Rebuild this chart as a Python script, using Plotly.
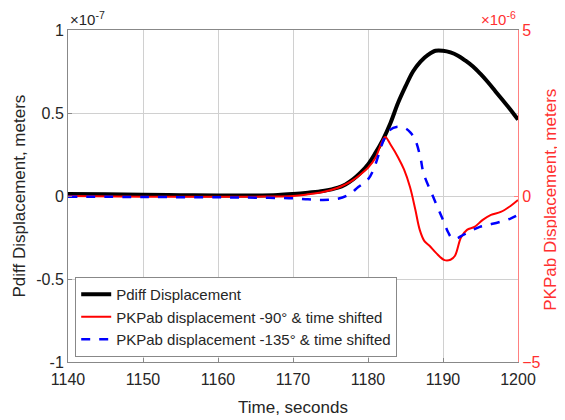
import plotly.graph_objects as go

# Pdiff displacement, units of 1e-7 m
t_pdiff = [1140, 1145, 1150, 1155, 1160, 1165, 1168, 1170, 1172, 1174, 1176, 1177, 1178,
           1179, 1180, 1181, 1182, 1183, 1184, 1185, 1186, 1187, 1188, 1189, 1190, 1191,
           1192, 1193, 1194, 1195, 1196, 1197, 1198, 1199, 1200]
pdiff = [0.012, 0.010, 0.007, 0.005, 0.003, 0.003, 0.006, 0.012, 0.02, 0.03, 0.05, 0.07, 0.10,
         0.14, 0.19, 0.26, 0.34, 0.44, 0.56, 0.66, 0.75, 0.81, 0.85, 0.875, 0.875, 0.865,
         0.845, 0.815, 0.78, 0.735, 0.685, 0.63, 0.575, 0.52, 0.46]

# PKPab -90 deg, time shifted, units of 1e-6 m
t_pk90 = [1140, 1150, 1160, 1165, 1170, 1172, 1174, 1176, 1177, 1178, 1179, 1180, 1181,
          1181.8, 1182.3, 1183, 1184, 1184.8, 1185.6, 1186.3, 1186.9, 1187.5, 1188.2, 1189.1,
          1190.2, 1191, 1191.6, 1192.4, 1193.2, 1194.2, 1195.3, 1196.4, 1197.7, 1199, 1200]
pk90 = [0.0, -0.02, -0.02, -0.02, 0.0, 0.05, 0.12, 0.25, 0.35, 0.48, 0.65, 0.85, 1.15,
        1.6, 1.78, 1.55, 1.17, 0.8, 0.27, -0.4, -1.02, -1.35, -1.5, -1.72,
        -1.93, -1.92, -1.8, -1.25, -1.02, -0.93, -0.72, -0.57, -0.48, -0.3, -0.12]

# PKPab -135 deg, time shifted, units of 1e-6 m
t_pk135 = [1140, 1150, 1160, 1165, 1170, 1172, 1174, 1176, 1177.5, 1178.7, 1180, 1180.7,
           1181.5, 1182.1, 1183, 1183.8, 1184.9, 1185.7, 1186.3, 1187, 1187.4, 1188.7, 1190,
           1190.7, 1191.2, 1191.8, 1192.7, 1194, 1194.9, 1196, 1197.6, 1199, 1200]
pk135 = [-0.02, -0.03, -0.04, -0.05, -0.07, -0.1, -0.12, -0.08, 0.05, 0.27, 0.5, 0.78,
         1.3, 1.69, 2.0, 2.08, 2.05, 1.9, 1.69, 1.15, 0.69, -0.03, -0.72,
         -1.1, -1.27, -1.28, -1.17, -1.02, -0.93, -0.87, -0.78, -0.68, -0.57]

x_ticks = [1140, 1150, 1160, 1170, 1180, 1190, 1200]
left_ticks = [-1, -0.5, 0, 0.5, 1]
right_ticks = [-5, 0, 5]

fig = go.Figure()
fig.add_trace(go.Scatter(x=t_pdiff, y=pdiff, mode="lines", line_shape="spline",
                         line=dict(color="black", width=4), name="Pdiff Displacement"))
fig.add_trace(go.Scatter(x=t_pk90, y=pk90, mode="lines", line_shape="spline", yaxis="y2",
                         line=dict(color="red", width=2),
                         name="PKPab displacement -90° & time shifted"))
fig.add_trace(go.Scatter(x=t_pk135, y=pk135, mode="lines", line_shape="spline", yaxis="y2",
                         line=dict(color="blue", width=2.5, dash="dash"),
                         name="PKPab displacement -135° & time shifted"))

grid = "#d0d0d0"
red = "#ff3030"
dark = "#262626"
fig.update_layout(
    width=557, height=412,
    margin=dict(l=60, r=47, t=22, b=58),
    plot_bgcolor="white", paper_bgcolor="white",
    font=dict(family="Liberation Sans, Arial, sans-serif", size=16, color=dark),
    xaxis=dict(range=[1140, 1200], tickvals=x_ticks, showgrid=True, gridcolor=grid,
               zeroline=False, showline=True, linecolor="#888", mirror=True,
               ticks="inside", ticklen=4, tickcolor="#888", automargin=False,
               ticklabelstandoff=3),
    yaxis=dict(range=[-1, 1], tickvals=left_ticks, ticktext=["-1", "-0.5", "0", "0.5", "1"],
               showgrid=True, gridcolor=grid, zeroline=False, showline=True,
               linecolor="#888", ticks="inside", ticklen=4, tickcolor="#888",
               automargin=False),
    yaxis2=dict(range=[-5, 5], tickvals=right_ticks, overlaying="y", side="right",
                showgrid=False, zeroline=False, showline=True, linecolor="#ff8080",
                ticks="inside", ticklen=4, tickcolor="#ff8080", automargin=False,
                tickfont=dict(color=red)),
    legend=dict(x=0.016, y=0.015, xanchor="left", yanchor="bottom",
                bgcolor="white", bordercolor="#888", borderwidth=1,
                font=dict(size=15, color=dark), tracegroupgap=0),
    showlegend=True,
)
fig.add_annotation(text="Time, seconds", xref="paper", yref="paper", x=0.5, y=-0.136,
                   xanchor="center", yanchor="middle", showarrow=False,
                   font=dict(size=17, color=dark))
fig.add_annotation(text="Pdiff Displacement, meters", xref="paper", yref="paper",
                   x=-0.11, y=0.5, textangle=-90, xanchor="center", yanchor="middle",
                   showarrow=False, font=dict(size=17, color=dark))
fig.add_annotation(text="PKPab Displacement, meters", xref="paper", yref="paper",
                   x=1.072, y=0.49, textangle=-90, xanchor="center", yanchor="middle",
                   showarrow=False, font=dict(size=17, color=red))
fig.add_annotation(text="×10<sup>-7</sup>", xref="paper", yref="paper", x=0, y=1,
                   xanchor="left", yanchor="bottom", showarrow=False,
                   font=dict(size=15, color=dark))
fig.add_annotation(text="×10<sup>-6</sup>", xref="paper", yref="paper", x=1, y=1,
                   xanchor="right", yanchor="bottom", showarrow=False,
                   font=dict(size=15, color=red))

fig.write_html("out.html")
